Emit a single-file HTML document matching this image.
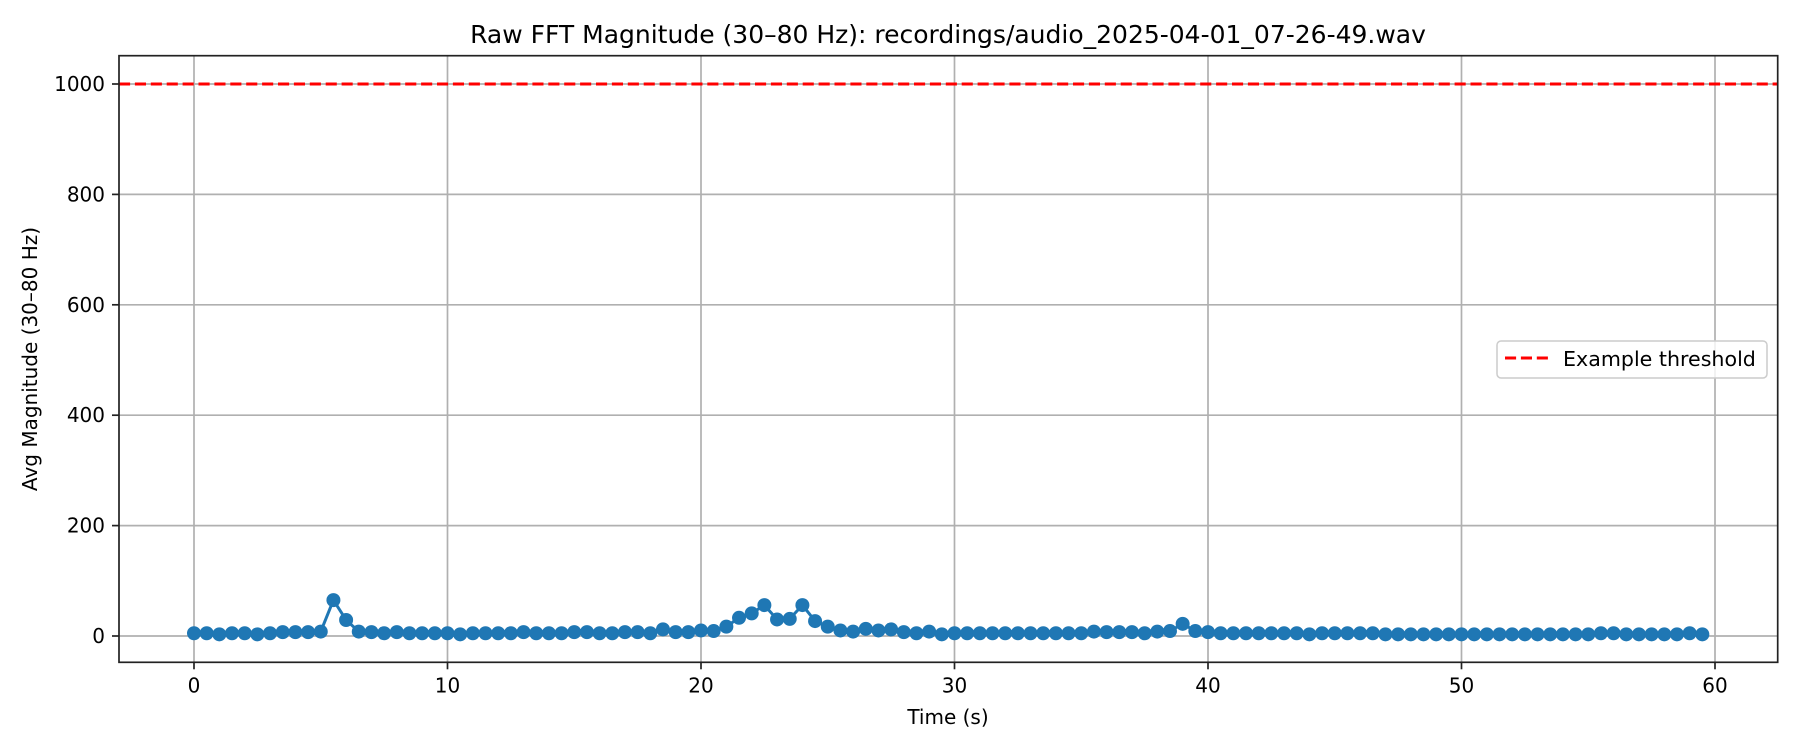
<!DOCTYPE html>
<html><head><meta charset="utf-8"><style>
html,body{margin:0;padding:0;background:#fff;}
svg{display:block;font-family:"DejaVu Sans","Liberation Sans",sans-serif;}
</style></head><body>
<svg id="chart" width="1800" height="750" viewBox="0 0 1800 750" xmlns="http://www.w3.org/2000/svg">
<rect width="1800" height="750" fill="#fff"/>
<text x="948" y="43" text-anchor="middle" font-size="25" fill="#000">Raw FFT Magnitude (30–80 Hz): recordings/audio_2025-04-01_07-26-49.wav</text>
<g id="grid"></g>
<g id="threshold"></g>
<g id="series"></g>
<rect x="119" y="55.7" width="1658.7" height="606.6" fill="none" stroke="#222" stroke-width="1.7"/>
<g id="ticks"></g>
<text x="948" y="724" text-anchor="middle" font-size="20" fill="#000">Time (s)</text>
<text transform="translate(37,359) rotate(-90)" text-anchor="middle" font-size="20" fill="#000">Avg Magnitude (30–80 Hz)</text>
<g>
<rect x="1497" y="341" width="270" height="37" rx="4" fill="#fff" fill-opacity="0.8" stroke="#ccc" stroke-width="1.5"/>
<line x1="1505" y1="358" x2="1548" y2="358" stroke="#ff0000" stroke-width="3" stroke-dasharray="11.1,4.8"/>
<text x="1563" y="366" font-size="20.6" fill="#000">Example threshold</text>
</g>
</svg>
<script>
const times = [];
for (let i = 0; i < 120; i++) times.push(i * 0.5);
const magnitudes = [5,5,3,5,5,3,5,7,7,7,8,65,29,8,7,5,7,5,5,5,
5,3,5,5,5,5,7,5,5,5,7,7,5,5,7,7,5,12,7,7,
10,9,17,33,41,56,30,31,56,27,17,10,8,13,10,12,7,5,8,3,
5,5,5,5,5,5,5,5,5,5,5,8,7,7,7,5,8,9,22,9,
7,5,5,5,5,5,5,5,3,5,5,5,5,5,3,3,3,3,3,3,
3,3,3,3,3,3,3,3,3,3,3,5,5,3,3,3,3,3,5,3];
const thresholdValue = [1000];
const xTicks = [0,10,20,30,40,50,60];
const yTicks = [0,200,400,600,800,1000];

const NS = "http://www.w3.org/2000/svg";
const X0 = 194, XS = 25.35, Y0 = 636, YS = 0.552;
const L = 119, R = 1777.7, T = 55.7, B = 662.3;
function xScale(t){ return X0 + t * XS; }
function yScale(v){ return Y0 - v * YS; }
function mk(tag, attrs, parent){
  const e = document.createElementNS(NS, tag);
  for (const k in attrs) e.setAttribute(k, attrs[k]);
  parent.appendChild(e);
  return e;
}
const grid = document.getElementById('grid');
const ticks = document.getElementById('ticks');
xTicks.forEach(t => {
  const x = xScale(t);
  const g = mk('line', {x1:x, y1:T, x2:x, y2:B, stroke:'#b0b0b0', 'stroke-width':1.7}, grid);
  
  
  const tk = mk('line', {x1:x, y1:B, x2:x, y2:B+7, stroke:'#222', 'stroke-width':1.7}, ticks);
  
  
  const lb = mk('text', {x:x, y:B+30, 'text-anchor':'middle', 'font-size':20, fill:'#000'}, ticks);
  lb.textContent = t;
  
  
});
yTicks.forEach(v => {
  const y = yScale(v);
  const g = mk('line', {x1:L, y1:y, x2:R, y2:y, stroke:'#b0b0b0', 'stroke-width':1.7}, grid);
  
  
  const tk = mk('line', {x1:L-7, y1:y, x2:L, y2:y, stroke:'#222', 'stroke-width':1.7}, ticks);
  
  
  const lb = mk('text', {x:L-14, y:y+7, 'text-anchor':'end', 'font-size':20, fill:'#000'}, ticks);
  lb.textContent = v;
  
  
});
const th = document.getElementById('threshold');
thresholdValue.forEach(v => {
  const l = mk('line', {x1:L, y1:yScale(v), x2:R, y2:yScale(v), stroke:'#ff0000', 'stroke-width':3, 'stroke-dasharray':'11.1,4.8'}, th);
  
  
});
const ser = document.getElementById('series');
const pts = times.map((t,i) => xScale(t).toFixed(2) + ',' + yScale(magnitudes[i]).toFixed(2)).join(' ');
const pl = mk('polyline', {points:pts, fill:'none', stroke:'#1f77b4', 'stroke-width':3, 'stroke-linejoin':'round'}, ser);


times.forEach((t,i) => {
  const c = mk('circle', {cx:xScale(t), cy:yScale(magnitudes[i]), r:7, fill:'#1f77b4'}, ser);
  
  
});
</script>
</body></html>
